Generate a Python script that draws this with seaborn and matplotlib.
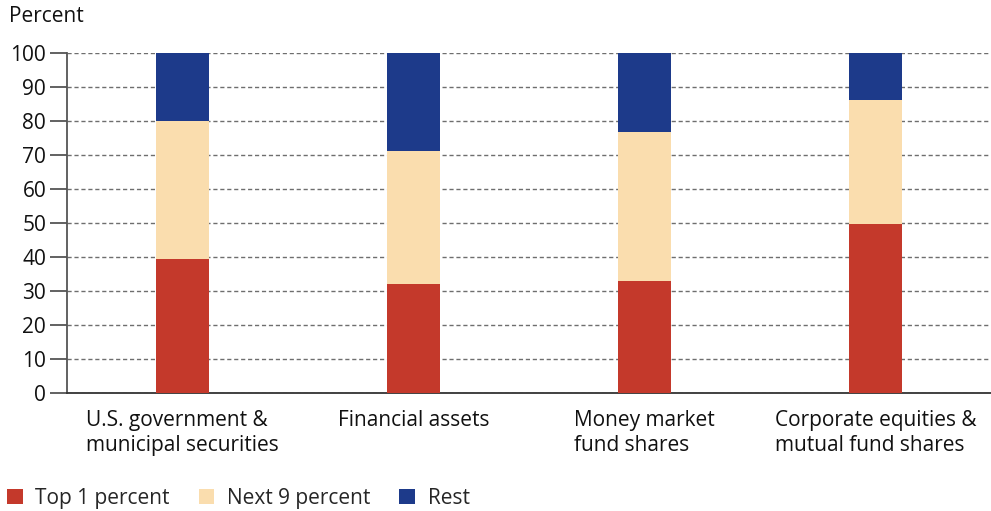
import pandas as pd
import matplotlib.pyplot as plt
import seaborn as sns
from matplotlib.patches import Patch

sns.set_theme(style="white")
plt.rcParams['font.family'] = ['Open Sans', 'DejaVu Sans']

# Data (percent of holdings)
categories = ["U.S. government &\nmunicipal securities", "Financial assets",
              "Money market\nfund shares", "Corporate equities &\nmutual fund shares"]
top1 = [39.5, 32.1, 32.8, 49.8]
next9 = [40.5, 39.2, 44.0, 36.5]
rest = [20.0, 28.7, 23.2, 13.7]

series_names = ["Top 1 percent", "Next 9 percent", "Rest"]
colors = ["#C4392B", "#FADDAE", "#1D3A8A"]

df = pd.DataFrame({"category": categories, "top1": top1, "next9": next9, "rest": rest})
df["cum2"] = df["top1"] + df["next9"]
df["cum3"] = df["cum2"] + df["rest"]

fs = 15

fig = plt.figure(figsize=(9.91, 5.11), dpi=100)
ax = fig.add_axes([67 / 991, 118 / 511, 1 - 67 / 991, 340 / 511])

# stacked bars: draw cumulative totals back to front
for col, c in zip(["cum3", "cum2", "top1"], [colors[2], colors[1], colors[0]]):
    sns.barplot(data=df, x="category", y=col, color=c, width=0.23,
                saturation=1, ax=ax, zorder=3, linewidth=0)

ax.set_xlim(-0.5, 3.5)
ax.set_ylim(0, 100)
ax.set_yticks(range(0, 101, 10))
ax.yaxis.grid(True, linestyle=(0, (3, 2)), color="#6e6e6e", linewidth=1, zorder=0)
ax.xaxis.grid(False)

for s in ["top", "right"]:
    ax.spines[s].set_visible(False)
ax.spines["left"].set_color("#555555")
ax.spines["bottom"].set_color("#333333")
ax.spines["left"].set_linewidth(1.3)
ax.spines["bottom"].set_linewidth(1.3)

ax.tick_params(axis="y", which="major", left=True, length=12, width=1.3,
               color="#555555", labelsize=fs, labelcolor="#111111", pad=3)
ax.tick_params(axis="x", bottom=False, labelsize=fs, labelcolor="#111111", pad=6)
for lbl in ax.get_xticklabels():
    lbl.set_multialignment("left")
    lbl.set_linespacing(1.3)

ax.set_xlabel("")
ax.set_ylabel("")
fig.text(9 / 991, 1 - 16 / 511, "Percent", fontsize=fs, color="#111111",
         va="center", ha="left")

handles = [Patch(facecolor=c, edgecolor="none") for c in colors]
fig.legend(handles, series_names, loc="lower left", bbox_to_anchor=(0.005, 0.0),
           ncol=3, frameon=False, fontsize=fs, handlelength=0.75, handleheight=0.75,
           handletextpad=0.6, columnspacing=1.4, borderaxespad=0.0, borderpad=0.1)

fig.savefig("out.png", dpi=100)
